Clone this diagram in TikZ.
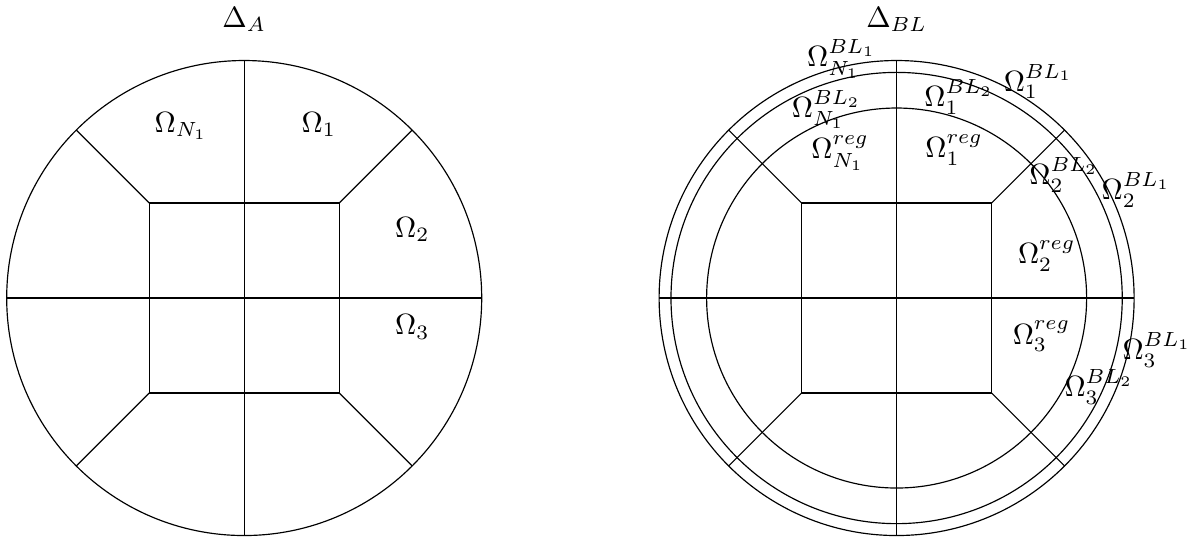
\documentclass[tikz,border=0pt]{standalone}
\usepackage{amsmath}
\usepackage{tikz}

\begin{document}
\begin{tikzpicture}[scale=0.57,
    ttl/.style={anchor=base},
    lab/.style={inner sep=0pt}]
  \useasboundingbox (-5.141,-5.074) rectangle (20.143,6.274);
  % left: Delta_A
  \draw (0,0) circle (5);
  \draw (-2,-2) rectangle (2,2);
  \draw (0,-5) -- (0,5);
  \draw (-5,0) -- (5,0);
  \foreach \a in {45,135,225,315} \draw (\a:2.8284) -- (\a:5);
  \node[ttl] (dA) at (0,5.705) {$\Delta_A$};
  \node[lab] (oN) at (-1.33,3.62) {$\Omega_{N_1}$};
  \node[lab] (o1) at (1.57,3.65) {$\Omega_1$};
  \node[lab] (o2) at (3.54,1.44) {$\Omega_2$};
  \node[lab] (o3) at (3.54,-0.61) {$\Omega_3$};
  % right: Delta_BL
  \begin{scope}[xshift=13.735cm]
    \foreach \r in {5,4.75,4} \draw (0,0) circle (\r);
    \draw (-2,-2) rectangle (2,2);
    \draw (0,-5) -- (0,5);
    \draw (-5,0) -- (5,0);
    \foreach \a in {45,135,225,315} \draw (\a:2.8284) -- (\a:5);
    \node[ttl] (dBL) at (0,5.705) {$\Delta_{BL}$};
    \node[lab] (bN1) at (-1.16,5.03) {$\Omega^{BL_1}_{N_1}$};
    \node[lab] (bN2) at (-1.48,3.97) {$\Omega^{BL_2}_{N_1}$};
    \node[lab] (rN) at (-1.19,3.05) {$\Omega^{reg}_{N_1}$};
    \node[lab] (b12) at (1.31,4.24) {$\Omega^{BL_2}_1$};
    \node[lab] (r1) at (1.21,3.12) {$\Omega^{reg}_1$};
    \node[lab] (b11) at (2.98,4.56) {$\Omega^{BL_1}_1$};
    \node[lab] (b22) at (3.52,2.59) {$\Omega^{BL_2}_2$};
    \node[lab] (b21) at (5.04,2.28) {$\Omega^{BL_1}_2$};
    \node[lab] (r2) at (3.16,0.89) {$\Omega^{reg}_2$};
    \node[lab] (r3) at (3.05,-0.81) {$\Omega^{reg}_3$};
    \node[lab] (b31) at (5.48,-1.09) {$\Omega^{BL_1}_3$};
    \node[lab] (b32) at (4.26,-1.88) {$\Omega^{BL_2}_3$};
  \end{scope}
\end{tikzpicture}
\end{document}
